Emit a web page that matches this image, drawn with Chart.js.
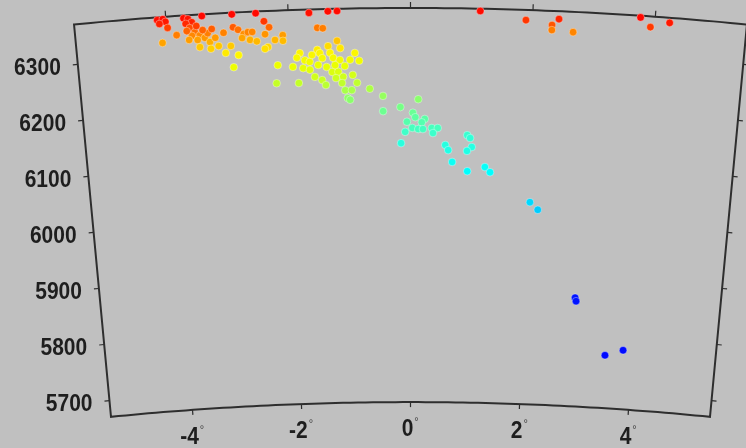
<!DOCTYPE html>
<html>
<head>
<meta charset="utf-8">
<script src="https://cdn.jsdelivr.net/npm/chart.js@4.4.1/dist/chart.umd.min.js"></script>
<style>
    html, body { margin: 0; padding: 0; background: #c0c0c0; }
    #wrap { width: 746px; height: 448px; }
</style>
</head>
<body>
<div id="wrap"><canvas id="quakeChart"></canvas></div>
<script>
// axes of the section
const angleTicks = [-4, -2, 0, 2, 4];
const radiusTicks = [5700, 5800, 5900, 6000, 6100, 6200, 6300];
const angleRange = [-5.5, 5.5];
const radiusRange = [5671, 6371];

// events: angle (deg) and radius (km)
const angles = [
    -4.14, -4.05, -4.01, -4.11, -3.98, -3.71, -3.64, -3.58, -3.68, -3.41,
    -2.92, -2.53, -2.40, -1.66, -1.35, -1.20, 1.14, 1.89, 2.43, 2.32,
    2.32, 2.67, 3.76, 3.93, 4.24, -3.84, -4.08, -3.62, -3.54, -3.46,
    -3.38, -3.59, -3.50, -3.30, -3.33, -3.26, -3.47, -3.29, -3.16, -3.05,
    -2.96, -2.93, -2.84, -3.07, -2.91, -2.83, -2.74, -2.77, -2.67, -2.64,
    -2.53, -2.32, -2.39, -2.35, -2.40, -2.23, -2.10, -2.10, -2.20, -2.23,
    -2.60, -1.53, -1.44, -1.21, -1.36, -1.54, -1.83, -1.88, -1.75, -1.67,
    -1.50, -1.33, -1.28, -1.17, -1.00, -0.92, -0.85, -1.95, -1.78, -1.67,
    -1.59, -1.47, -1.39, -1.30, -1.20, -1.12, -1.25, -1.14, -1.09, -0.98,
    -0.96, -0.89, -1.86, -1.05, -1.01, -0.68, -0.46, -0.46, -0.17, 0.13,
    0.04, 0.08, -0.06, 0.24, 0.19, 0.03, 0.13, 0.21, 0.36, 0.46,
    0.38, -0.09, -0.16, 0.59, 0.64, 0.96, 1.01, 1.04, 0.96, 0.71,
    0.97, 1.27, 1.36, 2.06, 2.20, 2.92, 2.94, 3.51, 3.83, -1.46,
    -1.09, -1.53, -1.24, -1.63, -1.41, -1.16, -3.67, -3.41, -3.51, -3.21,
    -3.64
];
const radii = [
    6366, 6367, 6362, 6359, 6351, 6366, 6364, 6358, 6356, 6368,
    6368, 6368, 6353, 6365, 6367, 6367, 6367, 6353, 6357, 6346,
    6337, 6335, 6368, 6352, 6362, 6337, 6325, 6348, 6340, 6334,
    6329, 6334, 6326, 6321, 6337, 6344, 6313, 6309, 6313, 6300,
    6312, 6274, 6295, 6336, 6345, 6340, 6332, 6325, 6335, 6321,
    6318, 6342, 6330, 6307, 6304, 6319, 6327, 6317, 6274, 6242,
    6335, 6338, 6337, 6314, 6305, 6299, 6294, 6286, 6281, 6278,
    6293, 6293, 6284, 6280, 6280, 6292, 6278, 6270, 6267, 6264,
    6251, 6245, 6268, 6259, 6259, 6250, 6271, 6239, 6226, 6226,
    6253, 6239, 6241, 6212, 6209, 6228, 6215, 6188, 6195, 6209,
    6185, 6177, 6169, 6174, 6168, 6158, 6156, 6156, 6158, 6158,
    6149, 6151, 6131, 6128, 6119, 6146, 6141, 6125, 6118, 6098,
    6082, 6090, 6081, 6030, 6017, 5864, 5858, 5765, 5776, 6284,
    6269, 6272, 6248, 6290, 6236, 6301, 6343, 6343, 6351, 6328,
    6327
];

// depth colour scale (km -> rgb)
const depthStops = [
    [0, [255, 0, 0]], [15, [255, 40, 0]], [35, [255, 130, 0]], [55, [255, 190, 0]],
    [75, [255, 245, 0]], [100, [235, 255, 0]], [130, [195, 255, 40]], [170, [125, 255, 125]],
    [230, [50, 255, 215]], [290, [0, 255, 255]], [350, [0, 210, 255]], [500, [0, 20, 255]],
    [700, [0, 0, 255]]
];

function depthColor(depth) {
    for (let i = 1; i < depthStops.length; i++) {
        const [d1, c1] = depthStops[i];
        const [d0, c0] = depthStops[i - 1];
        if (depth <= d1) {
            const t = Math.max(0, (depth - d0) / (d1 - d0));
            const c = c0.map((v, k) => Math.round(v + (c1[k] - v) * t));
            return `rgb(${c[0]},${c[1]},${c[2]})`;
        }
    }
    return 'rgb(0,0,255)';
}

const rad = a => a * Math.PI / 180;
const toXY = (a, r) => ({ x: r * Math.sin(rad(a)), y: r * Math.cos(rad(a)) });

const points = angles.map((a, i) => toXY(a, radii[i]));
const colors = radii.map(r => depthColor(radiusRange[1] - r));

function pix(chart, a, r) {
    const p = toXY(a, r);
    return [chart.scales.x.getPixelForValue(p.x), chart.scales.y.getPixelForValue(p.y)];
}

function drawText(ctx, text, x, y, align) {
    ctx.save();
    ctx.font = 'bold 21px "Liberation Sans", Arial, sans-serif';
    ctx.textAlign = align;
    ctx.textBaseline = 'middle';
    ctx.translate(x, y);
    ctx.scale(1, 1.18);
    ctx.fillText(text, 0, 0);
    ctx.restore();
}

const framePlugin = {
    id: 'polarFrame',
    beforeDatasetsDraw(chart) {
        const ctx = chart.ctx;
        const [a0, a1] = angleRange;
        const [r0, r1] = radiusRange;
        ctx.save();
        ctx.strokeStyle = '#2e2e2e';
        ctx.lineWidth = 2;
        ctx.lineJoin = 'miter';
        ctx.beginPath();
        const steps = 80;
        for (let i = 0; i <= steps; i++) {
            const [x, y] = pix(chart, a0 + (a1 - a0) * i / steps, r1);
            i === 0 ? ctx.moveTo(x, y) : ctx.lineTo(x, y);
        }
        for (let i = steps; i >= 0; i--) {
            const [x, y] = pix(chart, a0 + (a1 - a0) * i / steps, r0);
            ctx.lineTo(x, y);
        }
        ctx.closePath();
        ctx.stroke();

        // ticks
        ctx.lineWidth = 1.2;
        const tick = (p, q, len) => {
            const dx = q[0] - p[0], dy = q[1] - p[1];
            const n = Math.hypot(dx, dy);
            const e = [p[0] + dx / n * len, p[1] + dy / n * len];
            ctx.beginPath();
            ctx.moveTo(p[0], p[1]);
            ctx.lineTo(e[0], e[1]);
            ctx.stroke();
            return e;
        };
        ctx.fillStyle = '#1e1e1e';
        radiusTicks.forEach(r => {
            const pl = pix(chart, a0, r);
            const el = tick(pl, pix(chart, a0 - 0.1, r), 5);
            drawText(ctx, String(r), el[0] - 12, el[1] + 3, 'right');
            const pr = pix(chart, a1, r);
            tick(pr, pix(chart, a1 + 0.1, r), 5);
        });
        angleTicks.forEach(a => {
            tick(pix(chart, a, r1), pix(chart, a, r1 + 20), 6);
            const pb = pix(chart, a, r0);
            tick(pb, pix(chart, a, r0 - 20), 5);
            ctx.save();
            ctx.font = 'bold 21px "Liberation Sans", Arial, sans-serif';
            const w = ctx.measureText(String(a)).width;
            ctx.restore();
            const cx = pb[0] - 3;
            drawText(ctx, String(a), cx + w / 2, pb[1] + 27, 'right');
            ctx.save();
            ctx.font = '11px "Liberation Sans", Arial, sans-serif';
            ctx.textAlign = 'left';
            ctx.textBaseline = 'middle';
            ctx.fillStyle = '#444';
            ctx.fillText('°', cx + w / 2 + 1, pb[1] + 20);
            ctx.restore();
        });
        ctx.restore();
    }
};

const ctx = document.getElementById('quakeChart').getContext('2d');
const quakeChart = new Chart(ctx, {
    type: 'scatter',
    data: {
        datasets: [{
            label: 'events',
            data: points,
            backgroundColor: colors,
            borderColor: 'rgba(255, 255, 255, 0.35)',
            borderWidth: 1,
            pointRadius: 3.8,
            clip: false,
        }],
    },
    options: {
        responsive: true,
        maintainAspectRatio: false,
        animation: false,
        layout: { padding: 0, autoPadding: false },
        plugins: { legend: { display: false }, tooltip: { enabled: false } },
        scales: {
            x: { type: 'linear', display: false, min: -745.0, max: 608.9 },
            y: { type: 'linear', display: false, min: 5589.5, max: 6385.2 },
        },
    },
    plugins: [framePlugin],
});
</script>
</body>
</html>
